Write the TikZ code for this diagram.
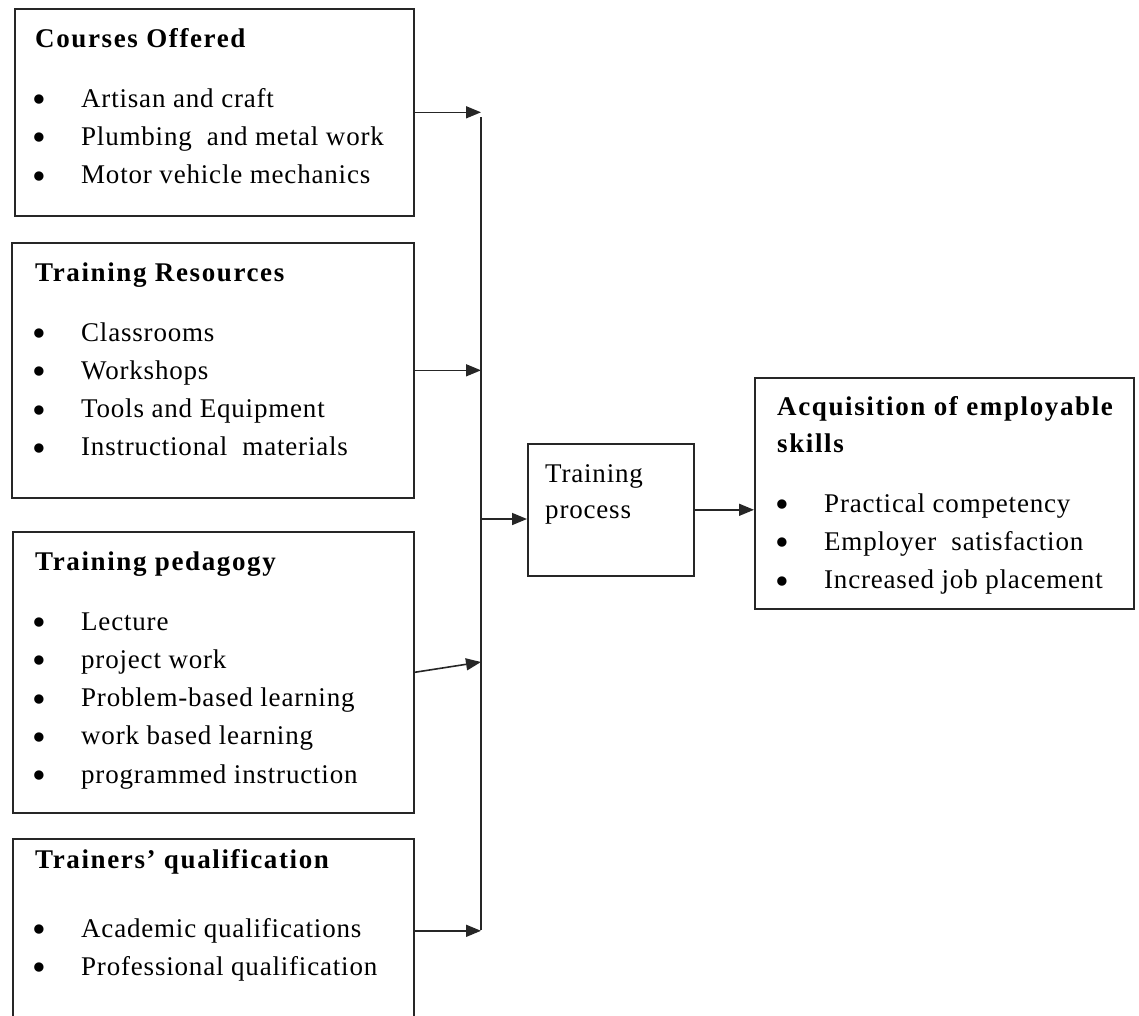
\documentclass[tikz,border=0pt]{standalone}
\usepackage{fontspec}
\setmainfont{Liberation Serif}[LetterSpace=3]
\usetikzlibrary{arrows.meta}

\newcommand{\fz}{\fontsize{27}{38.3}\selectfont}
\newcommand{\bul}{\raisebox{-0.2em}{\scalebox{1.45}{\textbullet}}}
\newcommand{\blist}[1]{\begin{tabular}[t]{@{}p{49pt}@{}l@{}}#1\end{tabular}}

\begin{document}
\begin{tikzpicture}[x=1pt,y=-1pt,
  every node/.style={font=\fz},
  box/.style={draw=black!85, line width=1.6pt, anchor=north west, inner sep=0pt},
  hd/.style={anchor=base west, inner sep=0pt, font=\fz\bfseries\addfontfeature{LetterSpace=6}},
  lst/.style={anchor=base west, inner sep=0pt},
  wire/.style={draw=black!85, line width=1.6pt},
  arr/.style={wire, -{Triangle[length=15pt,width=12pt]}}]
\useasboundingbox (0,0) rectangle (1139,1015);

% Input boxes
\node[box, minimum width=399pt, minimum height=207pt] (courses) at (14,8) {};
\node[hd] (coursesT) at (35,47) {Courses Offered};
\node[lst] (coursesL) at (32,107) {\blist{\bul & Artisan and craft\\
  \bul & Plumbing\ \ and metal work\\
  \bul & Motor vehicle mechanics}};

\node[box, minimum width=402pt, minimum height=255pt] (resources) at (11,242) {};
\node[hd] (resourcesT) at (35,281) {Training Resources};
\node[lst] (resourcesL) at (32,341) {\blist{\bul & Classrooms\\
  \bul & Workshops\\
  \bul & Tools and Equipment\\
  \bul & Instructional\ \ materials}};

\node[box, minimum width=401pt, minimum height=281pt] (pedagogy) at (12,531) {};
\node[hd] (pedagogyT) at (35,570) {Training pedagogy};
\node[lst] (pedagogyL) at (32,630) {\blist{\bul & Lecture\\
  \bul & project work\\
  \bul & Problem-based learning\\
  \bul & work based learning\\
  \bul & programmed instruction}};

\node[box, minimum width=401pt, minimum height=184pt] (trainers) at (12,838) {};
\node[hd] (trainersT) at (35,868) {Trainers' qualification};
\node[lst] (trainersL) at (32,937) {\blist{\bul & Academic qualifications\\
  \bul & Professional qualification}};

% Process and outcome
\node[box, minimum width=166pt, minimum height=132pt] (process) at (527,443) {};
\node[lst] (processT) at (545,482) {\begin{tabular}[t]{@{}l@{}}Training\\[-2pt] process\end{tabular}};

\node[box, minimum width=379pt, minimum height=231pt] (skills) at (754,377) {};
\node[hd] (skillsT) at (777,415) {\begin{tabular}[t]{@{}l@{}}Acquisition of employable\\[-1pt] skills\end{tabular}};
\node[lst] (skillsL) at (775,512) {\blist{\bul & Practical competency\\
  \bul & Employer\ \ satisfaction\\
  \bul & Increased job placement}};

% Connectors
\coordinate (busTop) at (481,117);
\coordinate (busBot) at (481,930);
\coordinate (pedIn) at (481,662);
\coordinate (busOut) at (481,519);
\draw[wire] (busTop) -- (busBot);
\draw[arr] (courses.east) -- (courses.east -| busTop);
\draw[arr] (resources.east) -- (resources.east -| busTop);
\draw[arr] (pedagogy.east) -- (pedIn);
\draw[arr] (trainers.east) -- (trainers.east -| busTop);
\draw[arr] (busOut) -- (busOut -| process.west);
\draw[arr] (process.east) -- (process.east -| skills.west);
\end{tikzpicture}
\end{document}
